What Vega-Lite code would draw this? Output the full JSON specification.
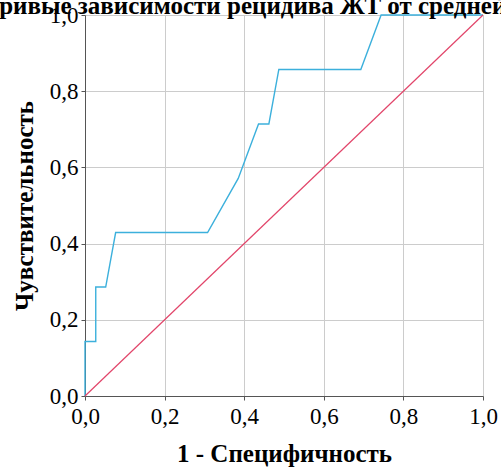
{
  "$schema": "https://vega.github.io/schema/vega-lite/v6.json",
  "width": 398,
  "height": 381,
  "autosize": "none",
  "padding": {"left": 85, "top": 15, "right": 18, "bottom": 72},
  "background": "white",
  "title": {
    "text": "Кривые зависимости рецидива ЖТ от средней частоты",
    "anchor": "start",
    "frame": "group",
    "dx": -104,
    "offset": -15,
    "font": "Liberation Serif",
    "fontSize": 25,
    "fontWeight": "bold",
    "color": "black"
  },
  "config": {
    "view": {"stroke": null},
    "style": {
      "guide-label": {"font": "Liberation Serif", "fontSize": 23, "fill": "black"},
      "guide-title": {"font": "Liberation Serif", "fontSize": 25, "fontWeight": "bold", "fill": "black"}
    }
  },
  "layer": [
    {
      "data": {"values": [
        {"i": 0, "fpr": 0.0, "tpr": 0.0},
        {"i": 1, "fpr": 0.0, "tpr": 0.143},
        {"i": 2, "fpr": 0.027, "tpr": 0.143},
        {"i": 3, "fpr": 0.027, "tpr": 0.286},
        {"i": 4, "fpr": 0.052, "tpr": 0.286},
        {"i": 5, "fpr": 0.077, "tpr": 0.429},
        {"i": 6, "fpr": 0.308, "tpr": 0.429},
        {"i": 7, "fpr": 0.385, "tpr": 0.571},
        {"i": 8, "fpr": 0.436, "tpr": 0.714},
        {"i": 9, "fpr": 0.462, "tpr": 0.714},
        {"i": 10, "fpr": 0.487, "tpr": 0.857},
        {"i": 11, "fpr": 0.693, "tpr": 0.857},
        {"i": 12, "fpr": 0.744, "tpr": 1.0},
        {"i": 13, "fpr": 1.0, "tpr": 1.0}
      ]},
      "mark": {"type": "line", "color": "#3cb0dc", "strokeWidth": 1.4, "clip": false},
      "encoding": {
        "x": {
          "field": "fpr", "type": "quantitative",
          "scale": {"domain": [0, 1], "nice": false},
          "axis": {
            "title": "1 - Специфичность",
            "values": [0, 0.2, 0.4, 0.6, 0.8, 1.0],
            "labelExpr": "replace(format(datum.value, '.1f'), '.', ',')",
            "labelFont": "Liberation Serif", "labelFontSize": 23, "labelColor": "black",
            "labelFlush": false, "labelPadding": 5,
            "titleFont": "Liberation Serif", "titleFontSize": 25, "titleFontWeight": "bold", "titleColor": "black",
            "titlePadding": 13,
            "gridColor": "#cccccc", "domainColor": "#555555", "tickColor": "#555555", "tickSize": 4
          }
        },
        "y": {
          "field": "tpr", "type": "quantitative",
          "scale": {"domain": [0, 1], "nice": false},
          "axis": {
            "title": "Чувствительность",
            "values": [0, 0.2, 0.4, 0.6, 0.8, 1.0],
            "labelExpr": "replace(format(datum.value, '.1f'), '.', ',')",
            "labelFont": "Liberation Serif", "labelFontSize": 23, "labelColor": "black",
            "labelFlush": false, "labelPadding": 3,
            "titleFont": "Liberation Serif", "titleFontSize": 25, "titleFontWeight": "bold", "titleColor": "black",
            "titlePadding": 12,
            "gridColor": "#cccccc", "domainColor": "#555555", "tickColor": "#555555", "tickSize": 4
          }
        },
        "order": {"field": "i", "type": "quantitative"}
      }
    },
    {
      "data": {"values": [
        {"i": 0, "fpr": 0.0, "tpr": 0.0},
        {"i": 1, "fpr": 1.0, "tpr": 1.0}
      ]},
      "mark": {"type": "line", "color": "#e2456a", "strokeWidth": 1.2, "clip": false},
      "encoding": {
        "x": {"field": "fpr", "type": "quantitative"},
        "y": {"field": "tpr", "type": "quantitative"},
        "order": {"field": "i", "type": "quantitative"}
      }
    }
  ]
}
